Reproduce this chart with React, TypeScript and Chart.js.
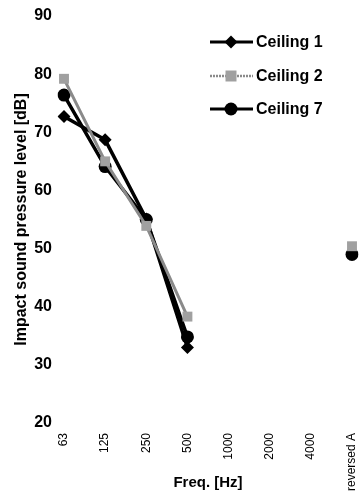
import React, { useEffect, useRef } from "react";
import { Chart, registerables } from "chart.js";

Chart.register(...registerables);

const categories = ["63", "125", "250", "500", "1000", "2000", "4000", "reversed A"];
const ceiling1 = [72.7, 68.7, 55.1, 33.0, null, null, null, null];
const ceiling2 = [79.2, 65.0, 53.9, 38.3, null, null, null, 50.4];
const ceiling7 = [76.4, 64.1, 55.0, 34.8, null, null, null, 49.0];
const seriesNames = ["Ceiling 1", "Ceiling 2", "Ceiling 7"];
const yMin = 20;
const yMax = 90;
const yStep = 10;

const FONT = "'Liberation Sans', Arial, sans-serif";

function drawMarker(ctx: CanvasRenderingContext2D, style: string, x: number, y: number, color: string) {
  ctx.save();
  ctx.fillStyle = color;
  ctx.beginPath();
  if (style === "rectRot") {
    const r = 6.5;
    ctx.moveTo(x, y - r);
    ctx.lineTo(x + r, y);
    ctx.lineTo(x, y + r);
    ctx.lineTo(x - r, y);
    ctx.closePath();
  } else if (style === "rect") {
    const r = 5.5;
    ctx.rect(x - r, y - r, 2 * r, 2 * r);
  } else {
    ctx.arc(x, y, 6.5, 0, Math.PI * 2);
  }
  ctx.fill();
  ctx.restore();
}

const legendPlugin = {
  id: "customLegend",
  afterDraw(chart: any) {
    const ctx = chart.ctx as CanvasRenderingContext2D;
    const entries = [
      { style: "rectRot", color: "#000", line: "#000", width: 3, dash: [] as number[] },
      { style: "rect", color: "#a0a0a0", line: "#8a8a8a", width: 2.5, dash: [2, 1] },
      { style: "circle", color: "#000", line: "#000", width: 3, dash: [] as number[] },
    ];
    const ys = [42, 76, 109];
    ctx.save();
    entries.forEach((e, i) => {
      const y = ys[i];
      ctx.strokeStyle = e.line;
      ctx.lineWidth = e.width;
      ctx.setLineDash(e.dash);
      ctx.beginPath();
      ctx.moveTo(210, y);
      ctx.lineTo(253, y);
      ctx.stroke();
      ctx.setLineDash([]);
      drawMarker(ctx, e.style, 231, y, e.color);
      ctx.fillStyle = "#000";
      ctx.font = `bold 16px ${FONT}`;
      ctx.textAlign = "left";
      ctx.textBaseline = "middle";
      ctx.fillText(seriesNames[i], 256, y + 1);
    });
    ctx.restore();
  },
};

export default function App() {
  const ref = useRef<HTMLCanvasElement | null>(null);
  useEffect(() => {
    if (!ref.current) return;
    const chart = new Chart(ref.current, {
      type: "line",
      data: {
        labels: categories,
        datasets: [
          {
            label: seriesNames[1],
            data: ceiling2,
            borderColor: "#8a8a8a",
            backgroundColor: "#a0a0a0",
            borderWidth: 3,
            pointStyle: "rect",
            pointRadius: 7,
            pointBorderWidth: 0,
            spanGaps: false,
          },
          {
            label: seriesNames[0],
            data: ceiling1,
            borderColor: "#000",
            backgroundColor: "#000",
            borderWidth: 3.5,
            pointStyle: "rectRot",
            pointRadius: 6.5,
            pointBorderWidth: 0,
            spanGaps: false,
          },
          {
            label: seriesNames[2],
            data: ceiling7,
            borderColor: "#000",
            backgroundColor: "#000",
            borderWidth: 3.5,
            pointStyle: "circle",
            pointRadius: 6.5,
            pointBorderWidth: 0,
            spanGaps: false,
          },
        ],
      },
      options: {
        animation: false,
        responsive: false,
        maintainAspectRatio: false,
        layout: { padding: { top: 16, right: 8, left: 10, bottom: 6 } },
        plugins: {
          legend: { display: false },
          tooltip: { enabled: false },
        },
        scales: {
          x: {
            offset: false,
            grid: { display: false, drawTicks: false },
            border: { display: false },
            ticks: {
              minRotation: 90,
              maxRotation: 90,
              padding: 10,
              color: "#000",
              font: { family: FONT, size: 12 },
              autoSkip: false,
            },
            title: {
              display: true,
              text: "Freq. [Hz]",
              color: "#000",
              font: { family: FONT, size: 15, weight: "bold" },
              padding: { top: 10, bottom: 0 },
            },
            afterFit(scale: any) {
              scale.height = 69;
              scale.paddingRight = 0;
              scale.paddingLeft = 0;
            },
          },
          y: {
            min: yMin,
            max: yMax,
            grid: { display: false, drawTicks: false },
            border: { display: false },
            ticks: {
              stepSize: yStep,
              padding: 12,
              color: "#000",
              font: { family: FONT, size: 16, weight: "bold" },
            },
            title: {
              display: true,
              text: "Impact sound pressure level [dB]",
              color: "#000",
              font: { family: FONT, size: 16, weight: "bold" },
              padding: { top: 2, bottom: 0 },
            },
            afterFit(scale: any) {
              scale.width = 54;
              scale.paddingTop = 0;
              scale.paddingBottom = 0;
            },
          },
        },
      },
      plugins: [legendPlugin],
    });
    return () => chart.destroy();
  }, []);
  return (
    <div style={{ position: "fixed", left: 0, top: 0, width: 360, height: 498, background: "#fff" }}>
      <canvas ref={ref} width={360} height={498} style={{ width: 360, height: 498 }} />
    </div>
  );
}
